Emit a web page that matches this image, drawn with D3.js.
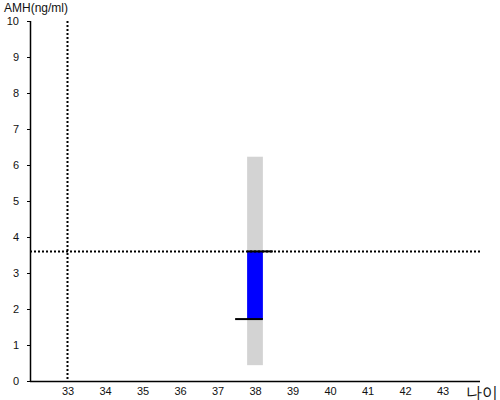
<!DOCTYPE html>
<html>
<head>
<meta charset="utf-8">
<script src="https://cdn.jsdelivr.net/npm/d3@7"></script>
<style>
  body { margin: 0; background: #fff; }
  svg text { font-family: "Liberation Sans", Arial, sans-serif; fill: #111; }
</style>
</head>
<body>
<svg id="chart" width="500" height="400"></svg>
<script>
// ages on the x axis
const ageTicks = [33, 34, 35, 36, 37, 38, 39, 40, 41, 42, 43];
const amhTicks = [0, 1, 2, 3, 4, 5, 6, 7, 8, 9, 10];

// reference range (gray) and measured range (blue) at age 38
const rangeAge = [38];
const rangeLow = [0.44];
const rangeHigh = [6.23];
const measuredLow = [1.72];
const measuredHigh = [3.6];

// crosshair: patient age / AMH value
const markAge = 33;
const markAmh = 3.6;

const svg = d3.select('#chart');
const x = d3.scaleLinear().domain([32, 44]).range([30, 480]);
const y = d3.scaleLinear().domain([0, 10]).range([381, 21]);

const barW = x(38.21) - x(37.79);

// gray band
svg.append('g')
  .selectAll('rect')
  .data(rangeAge)
  .join('rect')
    .attr('x', d => x(d) - barW / 2)
    .attr('width', barW)
    .attr('y', (d, i) => y(rangeHigh[i]))
    .attr('height', (d, i) => y(rangeLow[i]) - y(rangeHigh[i]))
    .attr('fill', '#d3d3d3');

// blue bar
svg.append('g')
  .selectAll('rect')
  .data(rangeAge)
  .join('rect')
    .attr('x', d => x(d) - barW / 2)
    .attr('width', barW)
    .attr('y', (d, i) => y(measuredHigh[i]))
    .attr('height', (d, i) => y(measuredLow[i]) - y(measuredHigh[i]))
    .attr('fill', '#0000ff');

// dotted crosshair
svg.append('line')
  .attr('x1', x(32)).attr('x2', x(44))
  .attr('y1', y(markAmh)).attr('y2', y(markAmh))
  .attr('stroke', '#000').attr('stroke-width', 2)
  .attr('stroke-dasharray', '2,2');
svg.append('line')
  .attr('x1', x(markAge)).attr('x2', x(markAge))
  .attr('y1', y(10)).attr('y2', y(0))
  .attr('stroke', '#000').attr('stroke-width', 2)
  .attr('stroke-dasharray', '2,2');

// black markers on the blue bar ends
rangeAge.forEach((a, i) => {
  svg.append('line')
    .attr('x1', x(a) - barW / 2).attr('x2', x(a) + barW / 2 + 10)
    .attr('y1', y(measuredHigh[i])).attr('y2', y(measuredHigh[i]))
    .attr('stroke', '#000').attr('stroke-width', 2);
  svg.append('line')
    .attr('x1', x(a) - barW / 2 - 12).attr('x2', x(a) + barW / 2)
    .attr('y1', y(measuredLow[i])).attr('y2', y(measuredLow[i]))
    .attr('stroke', '#000').attr('stroke-width', 2);
});

// axes
const xAxis = d3.axisBottom(x).tickValues(ageTicks).tickSize(0).tickPadding(6);
const gx = svg.append('g').attr('transform', `translate(0,${y(0)})`).call(xAxis);
gx.select('.domain').attr('d', `M${x(32)},0.5H${x(44)}`).attr('stroke', '#000').attr('stroke-width', 1.5);
gx.selectAll('text').style('font-size', '11px');

const yAxis = d3.axisLeft(y).tickValues(amhTicks).tickSize(3).tickPadding(8);
const gy = svg.append('g').attr('transform', `translate(${x(32)},0)`).call(yAxis);
gy.select('.domain').attr('d', `M0.5,${y(10)}V${y(0)}`).attr('stroke', '#000').attr('stroke-width', 1.5);
gy.selectAll('text').style('font-size', '11px');

svg.append('text')
  .attr('x', 4).attr('y', 12)
  .style('font-size', '12px')
  .text('AMH(ng/ml)');

svg.append('text')
  .attr('x', 498).attr('y', 398)
  .attr('text-anchor', 'end')
  .style('font-size', '16px')
  .text('나이');
</script>
</body>
</html>
